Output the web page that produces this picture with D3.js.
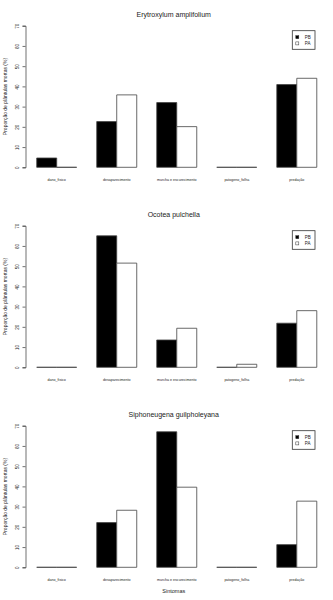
<!DOCTYPE html>
<html>
<head>
<meta charset="utf-8">
<script src="https://cdn.jsdelivr.net/npm/d3@7"></script>
<style>
  body { margin: 0; background: #fff; }
  text { font-family: "Liberation Sans", Arial, sans-serif; fill: #222; }
</style>
</head>
<body>
<div id="chart"></div>
<script>
const categories = ["dano_fisico", "desaparecimento", "murcha e escurecimento", "patogeno_folha", "predação"];
const seriesNames = ["PB", "PA"];
const titles = ["Erytroxylum amplifolium", "Ocotea pulchella", "Siphoneugena guilpholeyana"];
// PB / PA per species
const erytPB = [4.6, 22.6, 32, 0, 40.9];
const erytPA = [0, 35.8, 20.1, 0, 44];
const ocotPB = [0, 65, 13.5, 0, 21.8];
const ocotPA = [0, 51.5, 19.3, 1.5, 28];
const siphPB = [0, 22.1, 67, 0, 11.2];
const siphPA = [0, 28.2, 39.6, 0, 32.7];
const yTicks = [0, 10, 20, 30, 40, 50, 60, 70];

const panels = [
  { title: titles[0], PB: erytPB, PA: erytPA },
  { title: titles[1], PB: ocotPB, PA: ocotPA },
  { title: titles[2], PB: siphPB, PA: siphPA }
];

const width = 333, height = 600, panelH = 200;
const svg = d3.select("#chart").append("svg")
  .attr("width", width).attr("height", height);

// bar units (R barplot style): groups start at 1,4,7,10,13, width 2
const xu = d3.scaleLinear().domain([0.44, 15.56]).range([25.5, 328]);
const x0 = d3.scaleBand().domain(categories)
  .range([xu(1), xu(15)]).paddingInner(1 / 3).paddingOuter(0);
const x1 = d3.scaleBand().domain(seriesNames).range([0, x0.bandwidth()]);
const y = d3.scaleLinear().domain([0, 70]).range([167.3, 25.7]);
const fill = d3.scaleOrdinal().domain(seriesNames).range(["#000", "#fff"]);

panels.forEach((p, i) => {
  const g = svg.append("g").attr("transform", `translate(0,${i * panelH})`);

  g.append("text")
    .attr("x", (xu(0.44) + xu(15.56)) / 2 - 3).attr("y", 16.5)
    .attr("text-anchor", "middle")
    .style("font-size", "7px")
    .text(p.title);

  const yAxis = g.append("g").attr("transform", `translate(${xu(0.44)},0)`)
    .call(d3.axisLeft(y).tickValues(yTicks).tickSize(3).tickPadding(2));
  yAxis.select(".domain").attr("stroke", "#333").attr("stroke-width", 0.7);
  yAxis.selectAll(".tick line").attr("stroke", "#333").attr("stroke-width", 0.7);
  yAxis.selectAll(".tick text")
    .attr("transform", "rotate(-90)")
    .attr("x", 0).attr("y", -8)
    .attr("dy", "0.35em")
    .attr("text-anchor", "middle")
    .style("font-size", "4.5px")
    .style("font-family", "Liberation Sans, Arial, sans-serif")
    .attr("fill", "#444");

  g.append("text")
    .attr("transform", `translate(7,${(y(0) + y(70)) / 2}) rotate(-90)`)
    .attr("text-anchor", "middle")
    .style("font-size", "5px")
    .text("Proporção de plântulas mortas (%)");

  const groups = g.selectAll(".grp").data(categories).enter().append("g")
    .attr("transform", d => `translate(${x0(d)},0)`);

  // paths so that zero-height bars still show their outline on the baseline
  groups.selectAll("path")
    .data((d, k) => seriesNames.map(s => ({ s, v: p[s][k] })))
    .enter().append("path")
    .attr("d", d => {
      const x = x1(d.s), w = x1.bandwidth();
      return `M${x},${y(0)}V${y(d.v)}H${x + w}V${y(0)}Z`;
    })
    .attr("fill", d => fill(d.s))
    .attr("stroke", "#444")
    .attr("stroke-width", 0.8);

  g.selectAll(".cat").data(categories).enter().append("text")
    .attr("x", d => x0(d) + x0.bandwidth() / 2)
    .attr("y", 180.5)
    .attr("text-anchor", "middle")
    .style("font-size", "3.6px")
    .attr("fill", "#555")
    .text(d => d);

  const leg = g.append("g").attr("transform", "translate(292.3,30.7)");
  leg.append("rect").attr("width", 22.7).attr("height", 18.6)
    .attr("fill", "#fff").attr("stroke", "#333").attr("stroke-width", 0.8);
  seriesNames.forEach((s, k) => {
    leg.append("rect").attr("x", 3.5).attr("y", 5 + k * 6.2)
      .attr("width", 3).attr("height", 3)
      .attr("fill", fill(s)).attr("stroke", "#333").attr("stroke-width", 0.5);
    leg.append("text").attr("x", 12.5).attr("y", 7.9 + k * 6.2)
      .style("font-size", "4.5px").text(s);
  });
});

svg.append("text")
  .attr("x", (xu(0.44) + xu(15.56)) / 2 - 3).attr("y", 593)
  .attr("text-anchor", "middle")
  .style("font-size", "5.5px")
  .text("Sintomas");
</script>
</body>
</html>
